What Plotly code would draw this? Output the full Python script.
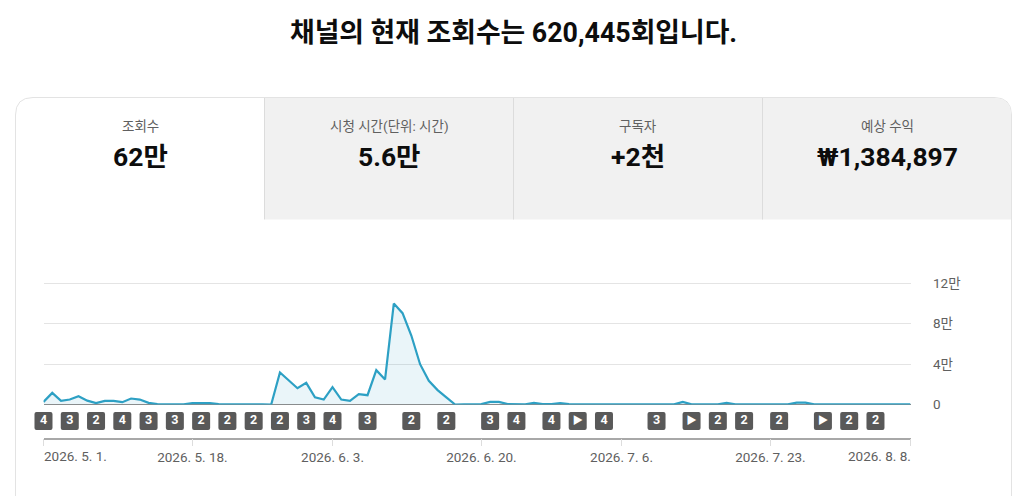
#!/usr/bin/env python3
"""Channel analytics card: daily views with upload badges."""

import pandas as pd
import plotly.graph_objects as go

W, H = 1017, 496

# =============================================================================
# DATA
# =============================================================================

days = pd.date_range("2026-05-01", "2026-08-08").strftime("%Y-%m-%d").tolist()

views = [
    2600, 11500, 3600, 4900, 8200, 3800, 1300, 3600, 3600, 2300,
    5900, 4900, 1600, 300, 200, 100, 100, 1300, 1300, 1300,
    300, 100, 100, 100, 100, 100, 0, 31600, 24300, 16100,
    21400, 7200, 4900, 17100, 4900, 3600, 10200, 9200, 33900, 24700,
    99700, 90200, 68100, 39800, 23400, 14200, 7000, 0, 100, 100,
    400, 2600, 2600, 500, 200, 200, 1500, 300, 300, 1300,
    300, 100, 100, 100, 100, 100, 100, 100, 100, 100,
    100, 100, 100, 2600, 100, 100, 100, 100, 1500, 100,
    100, 100, 100, 100, 100, 100, 1800, 1800, 100, 100,
    100, 100, 100, 100, 100, 100, 100, 100, 100, 100,
]

badge_days = [
    "2026-05-01", "2026-05-04", "2026-05-07", "2026-05-10", "2026-05-13", "2026-05-16",
    "2026-05-19", "2026-05-22", "2026-05-25", "2026-05-28", "2026-05-31", "2026-06-03",
    "2026-06-07", "2026-06-12", "2026-06-16", "2026-06-21", "2026-06-24", "2026-06-28",
    "2026-07-01", "2026-07-04", "2026-07-10", "2026-07-14", "2026-07-17", "2026-07-20",
    "2026-07-24", "2026-07-29", "2026-08-01", "2026-08-04",
]
badge_labels = [
    "4", "3", "2", "4", "3", "3",
    "2", "2", "2", "2", "3", "4",
    "3", "2", "2", "3", "4", "4",
    "▶", "4", "3", "▶", "2", "2",
    "2", "▶", "2", "2",
]

tick_days = ["2026-05-01", "2026-05-18", "2026-06-03", "2026-06-20", "2026-07-06", "2026-07-23", "2026-08-08"]
tick_labels = ["", "2026. 5. 18.", "2026. 6. 3.", "2026. 6. 20.", "2026. 7. 6.", "2026. 7. 23.", ""]

y_ticks = [0, 40000, 80000, 120000]
y_labels = ["0", "4만", "8만", "12만"]

tab_titles = ["조회수", "시청 시간(단위: 시간)", "구독자", "예상 수익"]
tab_values = ["62만", "5.6만", "+2천", "₩1,384,897"]
headline = "채널의 현재 조회수는 620,445회입니다."

# =============================================================================
# HELPERS
# =============================================================================

FONT = "Roboto, 'Noto Sans CJK KR', sans-serif"
TEAL = "#2da0c4"
GREY_TEXT = "#606060"


def px(x):
    return x / W


def py(y):
    return 1 - y / H


# -----------------------------------------------------------------------------
# Chart
# -----------------------------------------------------------------------------
fig = go.Figure()

fig.add_trace(go.Scatter(
    x=days, y=views,
    mode="lines",
    line=dict(color=TEAL, width=2.2),
    fill="tozeroy",
    fillcolor="rgba(45,160,196,0.10)",
    cliponaxis=False,
    hoverinfo="skip",
))

# badge digits sit on their own hidden axes under the zero line
fig.add_trace(go.Scatter(
    x=badge_days, y=[0.5] * len(badge_days),
    xaxis="x2", yaxis="y2",
    mode="text",
    text=badge_labels,
    textposition="middle center",
    textfont=dict(
        family=FONT,
        size=[10.5 if b == "▶" else 12.5 for b in badge_labels],
        color="white",
        weight="bold",
    ),
    hoverinfo="skip",
))

shapes = []

# card: white outline with rounded top corners
shapes.append(dict(
    type="path", xref="paper", yref="paper", layer="below",
    path=(f"M {px(15.5)} {py(496)} L {px(15.5)} {py(115)} "
          f"Q {px(15.5)} {py(97.5)} {px(33)} {py(97.5)} "
          f"L {px(994)} {py(97.5)} Q {px(1011.5)} {py(97.5)} {px(1011.5)} {py(115)} "
          f"L {px(1011.5)} {py(496)}"),
    line=dict(color="#e3e3e3", width=1),
))
# inactive tabs
shapes.append(dict(
    type="path", xref="paper", yref="paper", layer="below",
    path=(f"M {px(265)} {py(219.5)} L {px(265)} {py(98)} L {px(994)} {py(98)} "
          f"Q {px(1011)} {py(98)} {px(1011)} {py(115)} L {px(1011)} {py(219.5)} Z"),
    fillcolor="#f1f1f1",
    line=dict(width=0),
))
for x_div in [264.5, 513.5, 762.5]:
    shapes.append(dict(
        type="line", xref="paper", yref="paper", layer="below",
        x0=px(x_div), x1=px(x_div), y0=py(98), y1=py(219.5),
        line=dict(color="#dcdcdc", width=1),
    ))

# rounded badges, sized in pixels and anchored on the date axis
for d in badge_days:
    shapes.append(dict(
        type="path", layer="below",
        xref="x2", yref="y2",
        xsizemode="pixel", ysizemode="pixel",
        xanchor=d, yanchor=0.5,
        path="M -7 -9 L 7 -9 Q 9 -9 9 -7 L 9 7 Q 9 9 7 9 L -7 9 Q -9 9 -9 7 L -9 -7 Q -9 -9 -7 -9 Z",
        fillcolor="#595959",
        line=dict(width=0),
    ))

annotations = [dict(
    text=f"<b>{headline}</b>",
    xref="paper", yref="paper", x=px(513.5), y=py(33),
    xanchor="center", yanchor="middle", showarrow=False,
    font=dict(family=FONT, size=26.8, color="#0d0d0d"),
)]

tab_centers = [140, 389, 638, 887]
for cx, title, value in zip(tab_centers, tab_titles, tab_values):
    annotations.append(dict(
        text=title, xref="paper", yref="paper", x=px(cx), y=py(126),
        xanchor="center", yanchor="middle", showarrow=False,
        font=dict(family=FONT, size=13.5, color=GREY_TEXT),
    ))
    annotations.append(dict(
        text=f"<b>{value}</b>", xref="paper", yref="paper", x=px(cx), y=py(156.5),
        xanchor="center", yanchor="middle", showarrow=False,
        font=dict(family=FONT, size=26.5, color="#0d0d0d"),
    ))

# first and last date labels hug the ends of the axis
annotations.append(dict(
    text="2026. 5. 1.", xref="paper", yref="paper", x=px(42), y=py(456),
    xanchor="left", yanchor="middle", showarrow=False,
    font=dict(family=FONT, size=13.5, color=GREY_TEXT),
))
annotations.append(dict(
    text="2026. 8. 8.", xref="paper", yref="paper", x=px(913), y=py(456),
    xanchor="right", yanchor="middle", showarrow=False,
    font=dict(family=FONT, size=13.5, color=GREY_TEXT),
))

# =============================================================================
# LAYOUT
# =============================================================================

fig.update_layout(
    width=W, height=H,
    margin=dict(l=0, r=0, t=0, b=0, autoexpand=False),
    paper_bgcolor="white",
    plot_bgcolor="rgba(0,0,0,0)",
    showlegend=False,
    font=dict(family=FONT, size=13.5, color=GREY_TEXT),
    shapes=shapes,
    annotations=annotations,
    xaxis=dict(
        type="date",
        domain=[px(43.5), px(910.5)],
        range=[days[0], days[-1]],
        anchor="free",
        position=py(438.5),
        showgrid=False,
        zeroline=False,
        showline=True,
        linecolor="#a8a8a8",
        linewidth=1.5,
        ticks="outside",
        ticklen=7,
        tickwidth=1,
        tickcolor="#dddddd",
        tickmode="array",
        tickvals=tick_days,
        ticktext=tick_labels,
        tickfont=dict(family=FONT, size=13.5, color=GREY_TEXT),
    ),
    # the top of the range runs past 12만 so that gridline is not dropped at the edge
    yaxis=dict(
        domain=[py(404.5), py(278.95)],
        range=[0, 124000],
        side="right",
        anchor="free",
        position=px(932),
        tickmode="array",
        tickvals=y_ticks,
        ticktext=y_labels,
        tickfont=dict(family=FONT, size=13.5, color=GREY_TEXT),
        ticks="",
        showline=False,
        gridcolor="#e4e4e4",
        gridwidth=1,
        zeroline=True,
        zerolinecolor="#8c8c8c",
        zerolinewidth=1,
    ),
    # badge axes: same day scale, three days wider on the left so the first badge is not clipped
    xaxis2=dict(
        type="date",
        domain=[px(17.22), px(910.5)],
        range=["2026-04-28", days[-1]],
        anchor="y2",
        visible=False,
    ),
    yaxis2=dict(
        domain=[py(434), py(408)],
        range=[0, 1],
        anchor="x2",
        visible=False,
    ),
)

# =============================================================================
# SAVE
# =============================================================================

fig.write_html(
    "out.html",
    config={"displayModeBar": False},
    post_script="document.body.style.margin='0';document.documentElement.style.overflow='hidden';",
)
